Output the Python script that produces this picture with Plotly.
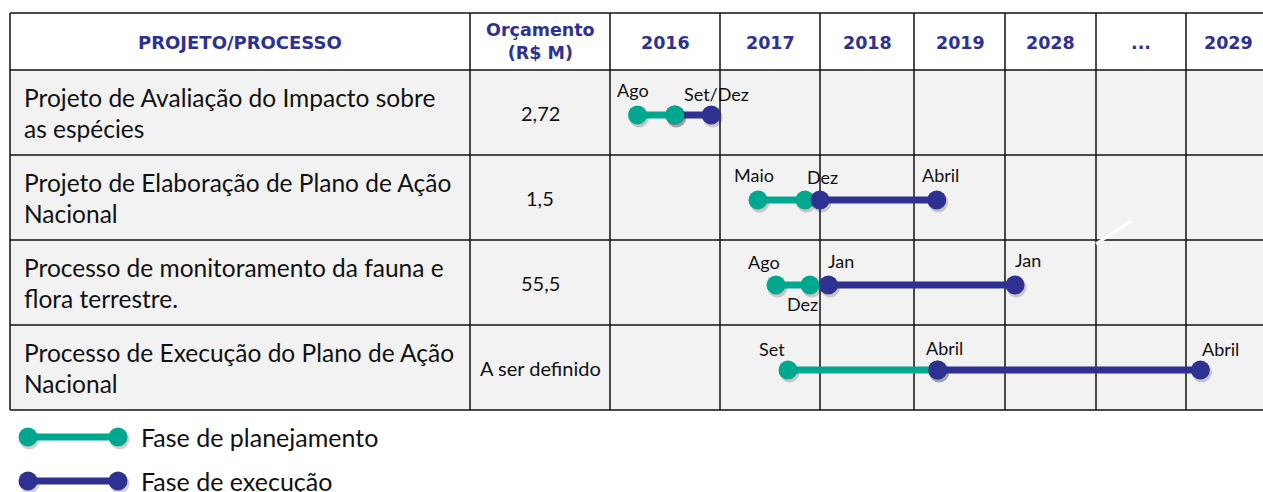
import plotly.graph_objects as go

# ---------------- data ----------------
projects = [
    "Projeto de Avaliação do Impacto sobre\nas espécies",
    "Projeto de Elaboração de Plano de Ação\nNacional",
    "Processo de monitoramento da fauna e\nflora terrestre.",
    "Processo de Execução do Plano de Ação\nNacional",
]
budgets = ["2,72", "1,5", "55,5", "A ser definido"]
periods = ["2016", "2017", "2018", "2019", "2028", "...", "2029"]

# timeline positions, in period-column units (column index + fraction of column)
plan_start = [0.25, 1.38, 1.56, 1.68]
plan_end = [0.59, 1.85, 1.90, 3.26]
exec_start = [0.59, 2.00, 2.09, 3.26]
exec_end = [0.92, 3.25, 4.11, 6.16]

# milestone labels
label_rows = [0, 0, 1, 1, 1, 2, 2, 2, 2, 3, 3, 3]
label_pos = [0.25, 0.92, 1.38, 2.00, 3.25, 1.56, 2.09, 4.11, 1.90, 1.68, 3.26, 6.16]
label_text = ["Ago", "Set/Dez", "Maio", "Dez", "Abril", "Ago", "Jan", "Jan", "Dez", "Set", "Abril", "Abril"]

legend_names = ["Fase de planejamento", "Fase de execução"]

# ---------------- styles / layout ----------------
W, H = 1263, 492
TEAL = "#00A88F"
NAVY = "#2E3192"
GRID = "#111111"
CELL_BG = "#F2F2F2"
BODY_FONT = "Lato"
HEAD_FONT = "DejaVu Sans"

col_edges = [10, 470, 610]                       # project / budget columns
period_edges = [610, 720, 820, 914, 1005, 1096, 1186, 1276]
period_centers = [665, 770, 867, 960, 1050, 1141, 1228]
table_top, header_bottom, row_h = 13, 70, 85
n_rows = len(projects)
table_bottom = header_bottom + row_h * n_rows

plan_on_top = [True, False, False, False]
label_dx = [-5, 5, -4, 2, 4, -12, 13, 13, -8, -16, 7, 20]
label_dy = [-25, -21, -25, -23, -25, -23, -24, -25, 19, -21, -22, -21]


def tx(t):
    """map timeline column units to x axis units"""
    i = min(int(t), len(period_edges) - 2)
    f = t - i
    return period_edges[i] + f * (period_edges[i + 1] - period_edges[i])


def row_y(r):
    return header_bottom + row_h * r + row_h / 2 + 2.5


fig = go.Figure()
shapes = []
annotations = []

# cell backgrounds
shapes.append(dict(type="rect", xref="x", yref="y", x0=col_edges[0], x1=W + 20,
                   y0=header_bottom, y1=table_bottom, fillcolor=CELL_BG, line_width=0, layer="below"))
shapes.append(dict(type="rect", xref="x", yref="y", x0=col_edges[0], x1=W + 20,
                   y0=table_top, y1=header_bottom, fillcolor="white", line_width=0, layer="below"))

# grid lines
for yy in [table_top, header_bottom] + [header_bottom + row_h * (i + 1) for i in range(n_rows)]:
    shapes.append(dict(type="line", xref="x", yref="y", x0=col_edges[0], x1=W + 20, y0=yy, y1=yy,
                       line=dict(color=GRID, width=1.5), layer="below"))
for xx in col_edges[:2] + period_edges[:-1]:
    shapes.append(dict(type="line", xref="x", yref="y", x0=xx, x1=xx, y0=table_top, y1=table_bottom,
                       line=dict(color=GRID, width=1.5), layer="below"))

# white slash artifact
shapes.append(dict(type="line", xref="x", yref="y", x0=1096, x1=1131, y0=244, y1=221,
                   line=dict(color="white", width=3), layer="above"))

# header texts
annotations.append(dict(x=(col_edges[0] + col_edges[1]) / 2, y=(table_top + header_bottom) / 2 + 1,
                        text="<b>PROJETO/PROCESSO</b>", showarrow=False,
                        font=dict(family=HEAD_FONT, size=18, color=NAVY)))
annotations.append(dict(x=(col_edges[1] + col_edges[2]) / 2, y=(table_top + header_bottom) / 2 - 0.5,
                        text="<b>Orçamento<br>(R$ M)</b>", showarrow=False,
                        font=dict(family=HEAD_FONT, size=17.5, color=NAVY)))
for i, p in enumerate(periods):
    annotations.append(dict(x=period_centers[i], y=(table_top + header_bottom) / 2 + 1,
                            text=f"<b>{p}</b>", showarrow=False,
                            font=dict(family=HEAD_FONT, size=17.5, color=NAVY)))

# row texts
for r in range(n_rows):
    yc = header_bottom + row_h * r + row_h / 2
    lines = projects[r].split("\n")
    for k, ln in enumerate(lines):
        annotations.append(dict(x=22, y=yc + (k - (len(lines) - 1) / 2) * 31, text=ln, showarrow=False,
                                xanchor="left", font=dict(family=BODY_FONT, size=24.5, color="#111")))
    annotations.append(dict(x=(col_edges[1] + col_edges[2]) / 2, y=yc, text=budgets[r], showarrow=False,
                            font=dict(family=BODY_FONT, size=20, color="#111")))


# gantt segments
def seg(x0, x1, y, color):
    return go.Scatter(x=[x0, x1], y=[y, y], mode="lines+markers", showlegend=False, hoverinfo="skip",
                      line=dict(color=color, width=7), marker=dict(size=19, color=color))


def shadow(x0, x1, y):
    return go.Scatter(x=[x0 + 1.5, x1 + 1.5], y=[y + 2.5, y + 2.5], mode="markers", showlegend=False,
                      hoverinfo="skip", marker=dict(size=20, color="rgba(0,0,0,0.18)"))


for r in range(n_rows):
    y = row_y(r)
    plan = (tx(plan_start[r]), tx(plan_end[r]), y, TEAL)
    exe = (tx(exec_start[r]), tx(exec_end[r]), y, NAVY)
    order = [exe, plan] if plan_on_top[r] else [plan, exe]
    for s in order:
        fig.add_trace(shadow(s[0], s[1], s[2]))
        fig.add_trace(seg(*s))

for i in range(len(label_text)):
    annotations.append(dict(x=tx(label_pos[i]), y=row_y(label_rows[i]), text=label_text[i], showarrow=False,
                            xshift=label_dx[i], yshift=-label_dy[i],
                            font=dict(family=BODY_FONT, size=18, color="#111")))

# legend
for k, (name, color) in enumerate(zip(legend_names, [TEAL, NAVY])):
    ly = 437 + 44 * k
    fig.add_trace(shadow(28, 118, ly))
    fig.add_trace(seg(28, 118, ly, color))
    annotations.append(dict(x=139, y=ly, text=name, showarrow=False, xanchor="left",
                            font=dict(family=BODY_FONT, size=25, color="#111")))

fig.update_layout(
    width=W, height=H, margin=dict(l=0, r=0, t=0, b=0),
    paper_bgcolor="white", plot_bgcolor="white",
    xaxis=dict(range=[0, W], visible=False, fixedrange=True),
    yaxis=dict(range=[H, 0], visible=False, fixedrange=True),
    shapes=shapes, annotations=annotations, showlegend=False,
)

fig.write_html(
    "out.html",
    config={"displayModeBar": False, "staticPlot": True},
    post_script="document.body.style.margin='0';document.body.style.overflow='hidden';",
)
